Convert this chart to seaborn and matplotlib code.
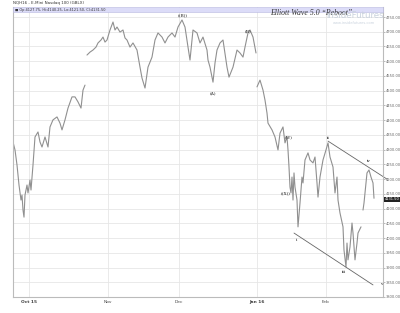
import numpy as np
import pandas as pd
import matplotlib
matplotlib.use("Agg")
import matplotlib.pyplot as plt
from matplotlib.patches import Rectangle
import seaborn as sns

# ---- data (hourly-bar index, price) ----
seg1_bar = [13, 15, 17, 19, 21, 22, 23, 24, 25, 27, 28, 30, 31, 33, 35, 38, 40, 42, 45, 48,
            50, 53, 57, 60, 62, 65, 68, 72, 75, 78, 81, 83, 85]
seg1_px = [4326, 4299, 4248, 4180, 4129, 4146, 4095, 4071, 4146, 4180, 4153, 4197, 4163, 4248,
           4343, 4360, 4326, 4309, 4343, 4309, 4377, 4401, 4411, 4390, 4367, 4401, 4441, 4479,
           4479, 4462, 4441, 4502, 4519]

seg2_bar = [87, 90, 93, 96, 98, 101, 103, 105, 107, 110, 113, 115, 117, 120, 123, 125, 127, 130,
            133, 137, 140, 142, 145, 148, 150, 152, 155, 158, 162, 165, 168, 172, 175, 178, 182,
            185, 188, 190, 193, 197, 200, 203, 207, 208, 210, 213, 215, 217, 220, 223, 227, 229,
            233, 237, 240, 243, 245, 248, 250, 253, 256]
seg2_px = [4621, 4631, 4638, 4648, 4662, 4672, 4682, 4665, 4672, 4706, 4733, 4706, 4716, 4699,
           4706, 4679, 4672, 4648, 4662, 4638, 4580, 4543, 4509, 4580, 4597, 4614, 4672, 4696,
           4682, 4662, 4682, 4696, 4682, 4716, 4740, 4716, 4648, 4604, 4706, 4696, 4662, 4682,
           4638, 4604, 4580, 4529, 4594, 4638, 4662, 4672, 4580, 4546, 4580, 4638, 4628, 4614,
           4648, 4696, 4706, 4682, 4628]

seg3_bar = [257, 260, 263, 265, 267, 268, 272, 275, 278, 280, 283, 285, 287, 288, 289, 290, 291,
            292, 293, 294, 295, 297, 298, 300, 302, 303, 305, 308, 310, 313, 315, 317, 318, 320,
            323, 326, 328, 330, 333, 335, 337, 338, 340, 343, 344, 346, 347, 348, 350, 352, 353,
            355, 357, 358, 361]
seg3_px = [4513, 4536, 4502, 4468, 4424, 4390, 4367, 4343, 4299, 4356, 4377, 4323, 4343, 4299,
           4241, 4173, 4153, 4207, 4129, 4221, 4173, 4129, 4038, 4119, 4207, 4187, 4265, 4289,
           4265, 4255, 4275, 4187, 4139, 4207, 4265, 4299, 4323, 4275, 4241, 4153, 4207, 4129,
           4085, 4038, 3959, 3902, 3983, 3926, 3970, 4051, 4017, 3926, 3983, 4017, 4038]

seg4_bar = [363, 364, 365, 366, 367, 369, 371, 373, 374]
seg4_px = [4095, 4119, 4153, 4187, 4221, 4231, 4207, 4187, 4135]

month_ticks = [29, 108, 179, 257, 326]
month_labels = ["Oct 15", "Nov", "Dec", "Jan 16", "Feb"]
month_bold = [True, False, False, True, False]

price_ticks = [3800, 3850, 3900, 3950, 4000, 4050, 4100, 4150, 4200, 4250, 4300, 4350,
               4400, 4450, 4500, 4550, 4600, 4650, 4700, 4750]

channel_bar = [328, 387]
channel_upper = [4329, 4200]
channel_lbar = [294, 373]
channel_lower = [4017, 3841]

wave_labels = ["((B))", "(A)", "(B)", "(W)", "((X))", "i", "ii", "iii", "iv", "v"]
wave_bar = [183, 213, 248, 289, 286, 297, 328, 344, 369, 381]
wave_px = [4757, 4492, 4700, 4343, 4150, 3995, 4338, 3885, 4260, 3845]

last_close = 4131.50
ohlc_text = "Op:4127.75, Hi:4140.25, Lo:4121.50, Cl:4131.50"

# ---- build frame ----
frames = []
for i, (b, p) in enumerate([(seg1_bar, seg1_px), (seg2_bar, seg2_px),
                            (seg3_bar, seg3_px), (seg4_bar, seg4_px)]):
    frames.append(pd.DataFrame({"bar": b, "price": p, "seg": i}))
df = pd.concat(frames, ignore_index=True)

sns.set_style("white")
plt.rcParams["font.family"] = ["DejaVu Sans"]

fig = plt.figure(figsize=(4.0, 3.13), dpi=100)
ax = fig.add_axes([13 / 400, 1 - 297 / 313, 370 / 400, 290 / 313])

sns.lineplot(data=df, x="bar", y="price", units="seg", estimator=None,
             color="#909090", linewidth=0.8, ax=ax, legend=False)

ax.set_xlim(13, 383)
ax.set_ylim(3800, 4784)

# grid
ax.set_yticks(price_ticks)
ax.set_xticks(month_ticks)
ax.grid(True, color="#e6e6e6", linewidth=0.6)
ax.set_axisbelow(True)

ax.yaxis.tick_right()
ax.set_yticklabels([f"{t:.2f}" for t in price_ticks], fontsize=2.6, color="#666666")
ax.set_xticklabels(month_labels, fontsize=3.2, color="#444444")
for lbl, bold in zip(ax.get_xticklabels(), month_bold):
    if bold:
        lbl.set_fontweight("bold")
ax.tick_params(axis="y", length=1.2, width=0.4, pad=0.5, colors="#888888", labelcolor="#666666")
ax.tick_params(axis="x", length=0, pad=2)
ax.set_xlabel("")
ax.set_ylabel("")

for s in ax.spines.values():
    s.set_color("#bbbbbb")
    s.set_linewidth(0.8)
ax.spines["top"].set_visible(False)

# lavender OHLC strip
ax.add_patch(Rectangle((0, 1 - 5 / 290), 1, 5 / 290, transform=ax.transAxes,
                       facecolor="#dcdcf8", edgecolor="#b8b8e0", linewidth=0.4, zorder=5,
                       clip_on=False))
ax.text(0.005, 1 - 2.5 / 290, "\u25a0 " + ohlc_text, transform=ax.transAxes,
        fontsize=2.5, color="#333333", va="center", ha="left", zorder=6)

# channel lines
ax.plot(channel_bar, channel_upper, color="#666666", linewidth=0.6, clip_on=False)
ax.plot(channel_lbar, channel_lower, color="#666666", linewidth=0.6, clip_on=False)

# wave labels
for t, b, p in zip(wave_labels, wave_bar, wave_px):
    ax.text(b, p, t, fontsize=3.2, ha="center", va="center", color="#222222",
            family="DejaVu Serif")

# last price box
ax.text(1.004, (last_close - 3800) / (4784 - 3800), f"{last_close:.2f}",
        transform=ax.transAxes, fontsize=2.6, color="white", va="center", ha="left",
        bbox=dict(boxstyle="square,pad=0.12", facecolor="#222222", edgecolor="none"))

# titles / watermark
fig.text(13 / 400, 1 - 3 / 313, "NQH16 - E-Mini Nasdaq 100 (GBLX)", fontsize=2.9,
         color="#333333", va="center", ha="left")
fig.text(311 / 400, 1 - 13 / 313, "Elliott Wave 5.0 \u201cReboot\u201d", fontsize=5.6,
         style="italic", family="Liberation Serif", color="#333333", va="center", ha="center")
fig.text(355 / 400, 1 - 16 / 313, "insideFutures", fontsize=6.2, color="#c9d2dd",
         va="center", ha="center")
fig.text(354 / 400, 1 - 23 / 313, "www.insidefutures.com", fontsize=2.6, color="#c9d2dd",
         va="center", ha="center")

fig.savefig("out.png", dpi=100)
